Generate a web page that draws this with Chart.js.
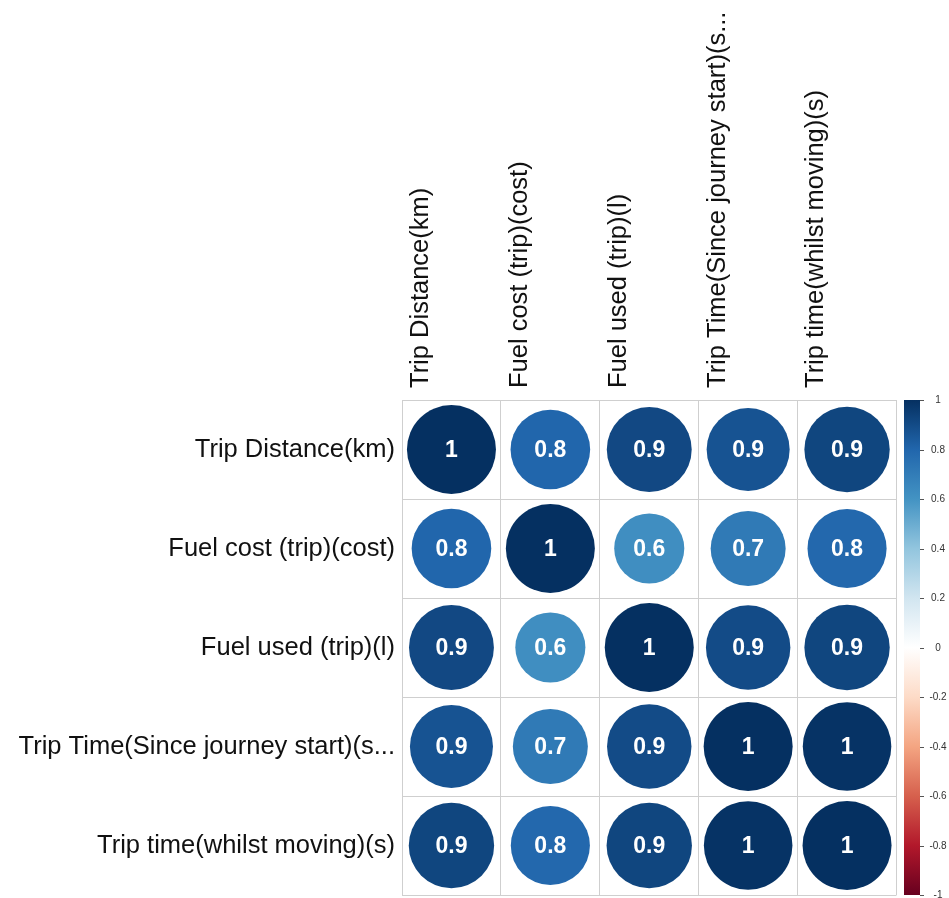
<!DOCTYPE html>
<html><head><meta charset="utf-8">
<script src="https://cdn.jsdelivr.net/npm/chart.js@4.4.1/dist/chart.umd.min.js"></script>
<style>html,body{margin:0;padding:0;background:#fff;} #wrap{width:949px;height:898px;position:relative;}</style>
</head><body><div id="wrap"><canvas id="c" width="949" height="898"></canvas></div>
<script>
const variables = ["Trip Distance(km)", "Fuel cost (trip)(cost)", "Fuel used (trip)(l)", "Trip Time(Since journey start)(s...", "Trip time(whilst moving)(s)"];
const tripDistance   = [1.00, 0.80, 0.91, 0.87, 0.92];
const fuelCost       = [0.80, 1.00, 0.62, 0.71, 0.79];
const fuelUsed       = [0.91, 0.62, 1.00, 0.90, 0.92];
const tripTime       = [0.87, 0.71, 0.90, 1.00, 0.99];
const tripTimeMoving = [0.92, 0.79, 0.92, 0.99, 1.00];
const corrRows = [tripDistance, fuelCost, fuelUsed, tripTime, tripTimeMoving];
const colorbarTicks = [-1, -0.8, -0.6, -0.4, -0.2, 0, 0.2, 0.4, 0.6, 0.8, 1];
const paletteRdBu = ["#67001F","#B2182B","#D6604D","#F4A582","#FDDBC7","#FFFFFF","#D1E5F0","#92C5DE","#4393C3","#2166AC","#053061"];

function hexToRgb(h){return [parseInt(h.slice(1,3),16),parseInt(h.slice(3,5),16),parseInt(h.slice(5,7),16)];}
function corrColor(v){
  const t = (Math.max(-1, Math.min(1, v)) + 1) / 2 * (paletteRdBu.length - 1);
  const i = Math.min(Math.floor(t), paletteRdBu.length - 2);
  const f = t - i;
  const a = hexToRgb(paletteRdBu[i]), b = hexToRgb(paletteRdBu[i+1]);
  const c = a.map((x,k)=>Math.round(x + (b[k]-x)*f));
  return `rgb(${c[0]},${c[1]},${c[2]})`;
}

const points = [];
corrRows.forEach((row, r) => row.forEach((v, c) => points.push({x: variables[c], y: variables[r], v: v})));

const FONT = "'Liberation Sans', Arial, sans-serif";
function valueAt(ctx){ const p = points[ctx.dataIndex]; return p ? p.v : 0; }
function noPad(s){ s.paddingTop = 0; s.paddingBottom = 0; s.paddingLeft = 0; s.paddingRight = 0; }
function cellSize(chart){
  const sx = chart.scales.x;
  if (!sx) return NaN;
  return Math.abs(sx.getPixelForValue(1) - sx.getPixelForValue(0));
}

const overlay = {
  id: 'overlay',
  afterDatasetsDraw(chart){
    const ctx = chart.ctx;
    const meta = chart.getDatasetMeta(0);
    ctx.save();
    ctx.fillStyle = '#ffffff';
    ctx.font = "bold 23px " + FONT;
    ctx.textAlign = 'center';
    ctx.textBaseline = 'middle';
    meta.data.forEach((el, i) => {
      const v = points[i].v;
      ctx.fillText(String(Math.round(v * 10) / 10), el.x, el.y + 1);
    });
    ctx.restore();
  },
  afterDraw(chart){
    const ctx = chart.ctx;
    const s = chart.scales.y2;
    const area = chart.chartArea;
    const x0 = area.right + 7.5, w = 16;
    const yTop = s.getPixelForValue(1), yBot = s.getPixelForValue(-1);
    const g = ctx.createLinearGradient(0, yBot, 0, yTop);
    paletteRdBu.forEach((c, i) => g.addColorStop(i / (paletteRdBu.length - 1), c));
    ctx.save();
    ctx.fillStyle = g;
    ctx.fillRect(x0, yTop, w, yBot - yTop);
    ctx.strokeStyle = '#555555';
    ctx.lineWidth = 1;
    ctx.fillStyle = '#333333';
    ctx.font = "10px " + FONT;
    ctx.textAlign = 'center';
    ctx.textBaseline = 'middle';
    colorbarTicks.forEach(t => {
      const y = Math.round(s.getPixelForValue(t)) + 0.5;
      ctx.beginPath();
      ctx.moveTo(x0 + w, y);
      ctx.lineTo(x0 + w + 4, y);
      ctx.stroke();
      ctx.fillText(String(t), area.right + 41.5, y);
    });
    ctx.restore();
  }
};

const chart = new Chart(document.getElementById('c'), {
  type: 'bubble',
  data: {
    datasets: [{
      xAxisID: 'x',
      yAxisID: 'y',
      data: points,
      backgroundColor: ctx => corrColor(valueAt(ctx)),
      borderWidth: 0,
      radius: ctx => {
        const cell = cellSize(ctx.chart);
        if (!isFinite(cell) || cell <= 0) return 1;
        return 0.45 * Math.sqrt(Math.abs(valueAt(ctx))) * cell;
      }
    }]
  },
  options: {
    responsive: false,
    animation: false,
    devicePixelRatio: 1,
    events: [],
    layout: {autoPadding: false, padding: {top: 0, right: 0, bottom: 3, left: 0}},
    plugins: {legend: {display: false}, tooltip: {enabled: false}},
    scales: {
      x: {
        type: 'category',
        labels: variables,
        position: 'top',
        offset: true,
        grid: {offset: true, color: '#cfcfcf', lineWidth: 1, drawTicks: false},
        border: {display: false},
        ticks: {minRotation: 90, maxRotation: 90, padding: 12, color: '#111', font: {family: FONT, size: 25.5}, autoSkip: false},
        afterFit: s => { s.height = 400; noPad(s); }
      },
      y: {
        type: 'category',
        labels: variables,
        position: 'left',
        offset: true,
        grid: {offset: true, color: '#cfcfcf', lineWidth: 1, drawTicks: false},
        border: {display: false},
        ticks: {padding: 7, color: '#111', font: {family: FONT, size: 25.5}, autoSkip: false},
        afterFit: s => { s.width = 402; noPad(s); }
      },
      y2: {
        type: 'linear',
        position: 'right',
        min: -1, max: 1,
        grid: {display: false},
        border: {display: false},
        ticks: {display: false},
        afterFit: s => { s.width = 52.5; noPad(s); }
      }
    }
  },
  plugins: [overlay]
});
// Re-parse once the scales are laid out, so the bubble radii come from the x scale's cell width.
chart.data.datasets[0].data = points.slice();
chart.update();
</script>
</body></html>
